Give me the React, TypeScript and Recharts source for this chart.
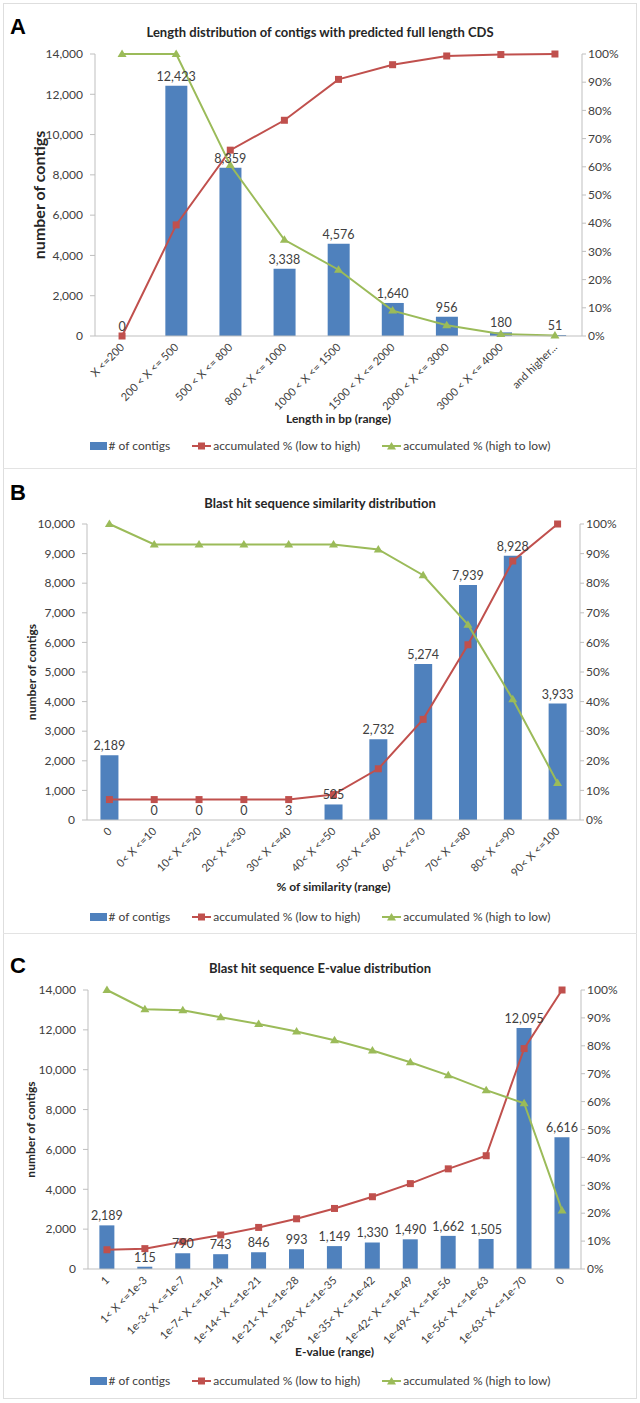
import React from "react";
import { Bar, ComposedChart, Label, LabelList, Line, XAxis, YAxis } from "recharts";

const BLUE = "#4F81BD";
const RED = "#C0504D";
const GREEN = "#9BBB59";
const INK = "#404040";
const AXIS = "#BFBFBF";
const FONT = "Lato, 'Open Sans', sans-serif";

// A: contig length
const lengthCats = ["X <=200", "200 < X <= 500", "500 < X <= 800", "800 < X <= 1000", "1000 < X <= 1500", "1500 < X <= 2000", "2000 < X <= 3000", "3000 < X <= 4000", "and higher..."];
const lengthCounts = [0, 12423, 8359, 3338, 4576, 1640, 956, 180, 51];
const lengthLowHigh = [0, 39.4, 65.9, 76.5, 91.0, 96.2, 99.3, 99.8, 100];
const lengthHighLow = [100, 100, 60.6, 34.1, 23.5, 9.0, 3.8, 0.7, 0.2];

// B: blast similarity
const simCats = ["0", "0< X <=10", "10< X <=20", "20< X <=30", "30< X <=40", "40< X <=50", "50< X <=60", "60< X <=70", "70< X <=80", "80< X <=90", "90< X <=100"];
const simCounts = [2189, 0, 0, 0, 3, 525, 2732, 5274, 7939, 8928, 3933];
const simLowHigh = [6.9, 6.9, 6.9, 6.9, 6.9, 8.6, 17.3, 34.0, 59.2, 87.5, 100];
const simHighLow = [100, 93.1, 93.1, 93.1, 93.1, 93.1, 91.4, 82.7, 66.0, 40.8, 12.5];

// C: blast E-value
const evalCats = ["1", "1< X <=1e-3", "1e-3< X <=1e-7", "1e-7< X <=1e-14", "1e-14< X <=1e-21", "1e-21< X <=1e-28", "1e-28< X <=1e-35", "1e-35< X <=1e-42", "1e-42< X <=1e-49", "1e-49< X <=1e-56", "1e-56< X <=1e-63", "1e-63< X <=1e-70", "0"];
const evalCounts = [2189, 115, 790, 743, 846, 993, 1149, 1330, 1490, 1662, 1505, 12095, 6616];
const evalLowHigh = [6.9, 7.3, 9.8, 12.2, 14.9, 18.0, 21.7, 25.9, 30.6, 35.9, 40.6, 79.0, 100];
const evalHighLow = [100, 93.1, 92.7, 90.2, 87.8, 85.1, 82.0, 78.3, 74.1, 69.4, 64.1, 59.4, 21.0];

const ticks14k = [0, 2000, 4000, 6000, 8000, 10000, 12000, 14000];
const ticks10k = [0, 1000, 2000, 3000, 4000, 5000, 6000, 7000, 8000, 9000, 10000];
const pctTicks = [0, 10, 20, 30, 40, 50, 60, 70, 80, 90, 100];

const W = 634;
const fmt = (v: any) => Number(v).toLocaleString("en-US");

const AngledTick = (p: any) => {
  const x = p.x + 3;
  const y = p.y + 12;
  return (
    <text x={x} y={y} transform={`rotate(-45 ${x} ${y})`} textAnchor="end" fill={INK} fontSize={11} fontFamily={FONT}>
      {p.payload.value}
    </text>
  );
};

const SquareDot = (p: any) => (p.cx == null ? null : <rect x={p.cx - 3.5} y={p.cy - 3.5} width={7} height={7} fill={RED} />);
const TriDot = (p: any) =>
  p.cx == null ? null : <path d={`M${p.cx},${p.cy - 4.5} L${p.cx + 4.5},${p.cy + 3} L${p.cx - 4.5},${p.cy + 3} Z`} fill={GREEN} />;

function Legend({ y }: { y: number }) {
  const item = { display: "flex", alignItems: "center", gap: 2 } as const;
  return (
    <div style={{ position: "absolute", left: 0, top: y - 9, width: W, display: "flex", justifyContent: "center", gap: 22, fontFamily: FONT, fontSize: 12, color: INK, lineHeight: "18px" }}>
      <div style={item}>
        <div style={{ width: 17, height: 8, background: BLUE }} />
        <span># of contigs</span>
      </div>
      <div style={item}>
        <svg width={19} height={10}>
          <line x1={0} y1={5} x2={19} y2={5} stroke={RED} strokeWidth={2} />
          <rect x={6} y={1.5} width={7} height={7} fill={RED} />
        </svg>
        <span>accumulated % (low to high)</span>
      </div>
      <div style={item}>
        <svg width={19} height={10}>
          <line x1={0} y1={5} x2={19} y2={5} stroke={GREEN} strokeWidth={2} />
          <path d="M9.5,1 L14,8.5 L5,8.5 Z" fill={GREEN} />
        </svg>
        <span>accumulated % (high to low)</span>
      </div>
    </div>
  );
}

type PanelProps = {
  top: number;
  height: number;
  letter: string;
  letterTop: number;
  title: string;
  titleY: number;
  cats: string[];
  counts: number[];
  lowHigh: number[];
  highLow: number[];
  countTicks: number[];
  xTitle: string;
  xTitleOffset: number;
  yTitleX: number;
  yTitleSize: number;
  plotLeft: number;
  plotRight: number;
  plotTop: number;
  plotBottom: number;
  legendY: number;
};

function Panel(p: PanelProps) {
  const data = p.cats.map((c, i) => ({ cat: c, count: p.counts[i], low: p.lowHigh[i], high: p.highLow[i] }));
  const cy = (p.plotTop + p.plotBottom) / 2;
  const maxCount = p.countTicks[p.countTicks.length - 1];
  const bounds = p.cats.map((_, i) => i).concat(p.cats.length);
  return (
    <div style={{ position: "absolute", left: 3, top: p.top, width: W, height: p.height }}>
      <div style={{ position: "absolute", left: 7, top: p.letterTop, fontFamily: "'Liberation Sans', Arial, sans-serif", fontWeight: "bold", fontSize: 22, lineHeight: "22px", color: "#000" }}>
        {p.letter}
      </div>
      <div style={{ position: "absolute", left: 0, top: p.titleY - 9, width: W, textAlign: "center", fontFamily: FONT, fontWeight: "bold", fontSize: 13, lineHeight: "18px", color: "#262626" }}>
        {p.title}
      </div>
      <ComposedChart width={W} height={p.height} data={data} margin={{ top: p.plotTop, right: 0, bottom: 0, left: 0 }} barCategoryGap="30%">
        {/* tick marks between categories, Excel style */}
        <XAxis xAxisId="b" type="number" domain={[0, p.cats.length]} ticks={bounds} height={0} tick={false} tickSize={5} tickLine={{ stroke: AXIS }} axisLine={false} allowDataOverflow />
        <XAxis dataKey="cat" xAxisId="x" interval={0} height={p.height - p.plotBottom} tick={<AngledTick />} tickLine={false} tickSize={0} tickMargin={0} axisLine={{ stroke: AXIS }}>
          <Label value={p.xTitle} position="insideTop" offset={p.xTitleOffset} fill="#262626" fontSize={12} fontWeight="bold" fontFamily={FONT} />
        </XAxis>
        <YAxis
          yAxisId="n"
          width={p.plotLeft}
          domain={[0, maxCount]}
          ticks={p.countTicks}
          tickFormatter={fmt}
          axisLine={{ stroke: AXIS }}
          tickLine={{ stroke: AXIS }}
          tickSize={5}
          tickMargin={7}
          tick={{ fill: INK, fontSize: 12, fontFamily: FONT }}
        >
          <Label
            content={() => (
              <text x={p.yTitleX} y={cy} transform={`rotate(-90 ${p.yTitleX} ${cy})`} textAnchor="middle" dominantBaseline="central" fill="#262626" fontSize={p.yTitleSize} fontWeight="bold" fontFamily={FONT}>
                number of contigs
              </text>
            )}
          />
        </YAxis>
        <YAxis
          yAxisId="p"
          orientation="right"
          width={W - p.plotRight}
          domain={[0, 100]}
          ticks={pctTicks}
          tickFormatter={(v: any) => `${v}%`}
          axisLine={{ stroke: AXIS }}
          tickLine={{ stroke: AXIS }}
          tickSize={4}
          tickMargin={2}
          tick={{ fill: INK, fontSize: 12, fontFamily: FONT }}
        />
        <Bar xAxisId="x" yAxisId="n" dataKey="count" fill={BLUE} isAnimationActive={false} />
        <Line xAxisId="x" yAxisId="p" dataKey="low" stroke={RED} strokeWidth={2} dot={<SquareDot />} activeDot={false} isAnimationActive={false} />
        <Line xAxisId="x" yAxisId="p" dataKey="high" stroke={GREEN} strokeWidth={2} dot={<TriDot />} activeDot={false} isAnimationActive={false} />
        {/* invisible series carrying the bar value labels (so zero bars get a "0" too) */}
        <Line xAxisId="x" yAxisId="n" dataKey="count" stroke="none" dot={false} activeDot={false} legendType="none" isAnimationActive={false}>
          <LabelList dataKey="count" position="top" offset={5} formatter={fmt} fill={INK} fontSize={12.5} fontFamily={FONT} />
        </Line>
      </ComposedChart>
      <Legend y={p.legendY} />
    </div>
  );
}

export default function App() {
  return (
    <div style={{ position: "absolute", left: 0, top: 0, width: 640, height: 1403, background: "#fff" }}>
      <div style={{ position: "absolute", left: 3, top: 3, width: 634, height: 1396, border: "1px solid #dedede", boxSizing: "border-box" }} />
      <div style={{ position: "absolute", left: 3, top: 468, width: 634, height: 1, background: "#e3e3e3" }} />
      <div style={{ position: "absolute", left: 3, top: 933, width: 634, height: 1, background: "#e3e3e3" }} />
      <Panel
        top={3}
        height={465}
        letter="A"
        letterTop={13}
        title="Length distribution of contigs with predicted full length CDS"
        titleY={29}
        cats={lengthCats}
        counts={lengthCounts}
        lowHigh={lengthLowHigh}
        highLow={lengthHighLow}
        countTicks={ticks14k}
        xTitle="Length in bp (range)"
        xTitleOffset={78}
        yTitleX={35}
        yTitleSize={16}
        plotLeft={92}
        plotRight={579}
        plotTop={51}
        plotBottom={333}
        legendY={443}
      />
      <Panel
        top={468}
        height={465}
        letter="B"
        letterTop={14}
        title="Blast hit sequence similarity distribution"
        titleY={35}
        cats={simCats}
        counts={simCounts}
        lowHigh={simLowHigh}
        highLow={simHighLow}
        countTicks={ticks10k}
        xTitle="% of similarity (range)"
        xTitleOffset={62}
        yTitleX={28}
        yTitleSize={12}
        plotLeft={84}
        plotRight={577}
        plotTop={56}
        plotBottom={352}
        legendY={449}
      />
      <Panel
        top={933}
        height={466}
        letter="C"
        letterTop={22}
        title="Blast hit sequence E-value distribution"
        titleY={35}
        cats={evalCats}
        counts={evalCounts}
        lowHigh={evalLowHigh}
        highLow={evalHighLow}
        countTicks={ticks14k}
        xTitle="E-value (range)"
        xTitleOffset={78}
        yTitleX={27}
        yTitleSize={12}
        plotLeft={85}
        plotRight={578}
        plotTop={57}
        plotBottom={336}
        legendY={448}
      />
    </div>
  );
}
